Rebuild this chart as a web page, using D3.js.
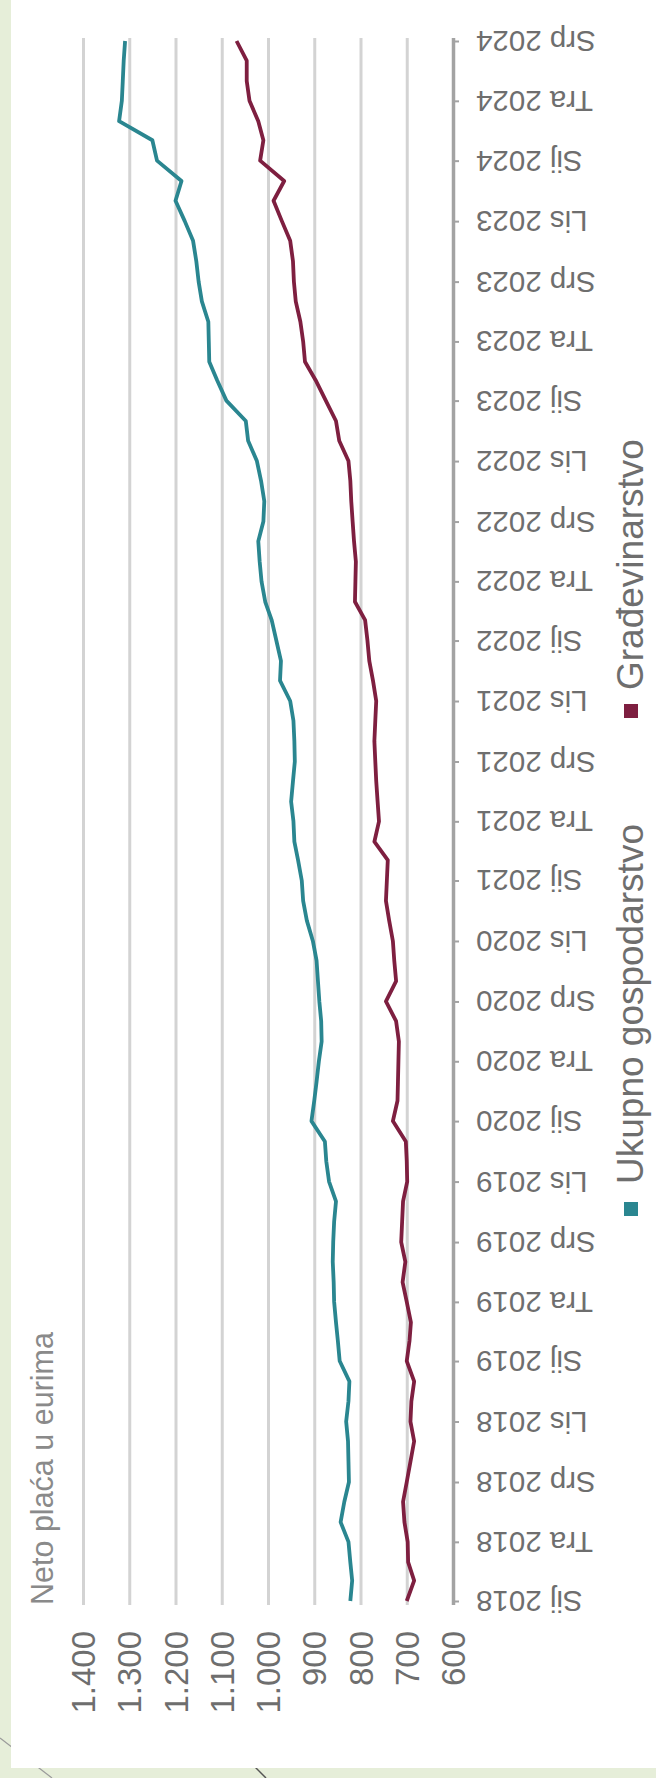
<!DOCTYPE html>
<html>
<head>
<meta charset="utf-8">
<script src="https://cdn.jsdelivr.net/npm/d3@7"></script>
<style>
  html, body { margin: 0; padding: 0; background: #e6eed9; }
  svg { display: block; }
  text { font-family: "Liberation Sans", Arial, sans-serif; }
</style>
</head>
<body>
<svg id="chart" width="656" height="1778"></svg>
<script>
// ---------- data ----------
const titleText = "Neto plaća u eurima";
const seriesNames = ["Ukupno gospodarstvo", "Građevinarstvo"];
const startMonth = new Date(2018, 0, 1);
const endMonth = new Date(2024, 6, 1);
const months = d3.timeMonth.range(startMonth, d3.timeMonth.offset(endMonth, 1));
const ukupno = [
  822, 818, 822, 826, 843, 835, 825, 826, 827, 831, 826, 824,
  845, 849, 853, 857, 858, 860, 859, 857, 853, 868, 874, 877,
  906, 900, 895, 890, 884, 885, 889, 892, 895, 903, 916, 924,
  927, 935, 943, 945, 950, 946, 942, 943, 945, 952, 974, 972,
  982, 992, 1006, 1014, 1018, 1021, 1010, 1008, 1015, 1024, 1043, 1048,
  1090, 1110, 1127, 1128, 1129, 1143, 1150, 1155, 1162, 1180, 1200, 1187,
  1240, 1250, 1322, 1316, 1314, 1312, 1309
];
const gradevinarstvo = [
  700, 684, 697, 698, 705, 708, 700, 692, 684, 692, 690, 684,
  700, 694, 691, 700, 709, 703, 712, 710, 708, 699, 700, 702,
  730, 720, 719, 718, 717, 723, 745, 723, 727, 730, 738, 745,
  743, 741, 770, 760, 763, 766, 768, 770, 768, 766, 773, 781,
  785, 790, 812, 811, 810, 814, 817, 820, 822, 826, 846, 853,
  875, 897, 920, 924, 930, 940, 944, 946, 952, 970, 988, 965,
  1017, 1010, 1021, 1040, 1046, 1046, 1068
];
const valueTicks = [600, 700, 800, 900, 1000, 1100, 1200, 1300, 1400];
const dateTickLabels = [
  "Sij 2018", "Tra 2018", "Srp 2018", "Lis 2018",
  "Sij 2019", "Tra 2019", "Srp 2019", "Lis 2019",
  "Sij 2020", "Tra 2020", "Srp 2020", "Lis 2020",
  "Sij 2021", "Tra 2021", "Srp 2021", "Lis 2021",
  "Sij 2022", "Tra 2022", "Srp 2022", "Lis 2022",
  "Sij 2023", "Tra 2023", "Srp 2023", "Lis 2023",
  "Sij 2024", "Tra 2024", "Srp 2024"
];
const colors = ["#2a8690", "#7e1f40"];

// ---------- drawing ----------
const svg = d3.select("#chart");
const W = 656, H = 1778;
const plotTop = 38, plotBottom = 1605;

// decorative slide lines (behind white card)
svg.append("line").attr("x1", 0).attr("y1", 1738).attr("x2", 52).attr("y2", 1778)
  .attr("stroke", "#9a9a9a").attr("stroke-width", 1.2);
svg.append("line").attr("x1", 246).attr("y1", 1758).attr("x2", 266).attr("y2", 1778)
  .attr("stroke", "#555").attr("stroke-width", 1.5);

// white card
svg.append("rect").attr("x", 11).attr("y", 0).attr("width", W - 11).attr("height", 1768)
  .attr("fill", "#ffffff");

const x = d3.scaleLinear().domain([600, 1400]).range([453, 83]);
const y = d3.scaleTime().domain([startMonth, endMonth]).range([1601, 41]);

const fmt = d3.formatLocale({ decimal: ",", thousands: ".", grouping: [3], currency: ["", " €"] }).format(",");

// value axis (gridlines + rotated labels)
const xAxis = d3.axisBottom(x).tickValues(valueTicks).tickSize(-(plotBottom - plotTop)).tickFormat(fmt);
const gx = svg.append("g").attr("transform", `translate(0,${plotBottom})`).call(xAxis);
gx.select(".domain").remove();
gx.selectAll(".tick line")
  .attr("stroke", d => d === 600 ? "#a3a3a3" : "#d3d3d3")
  .attr("stroke-width", d => d === 600 ? 3.5 : 3);
gx.selectAll(".tick text")
  .attr("x", 0).attr("y", 0).attr("dy", null)
  .attr("dominant-baseline", "central")
  .attr("text-anchor", "end")
  .attr("transform", "translate(0,26) rotate(-90)")
  .attr("font-size", 33)
  .attr("fill", "#6e6e6e");

// date axis
const quarterDates = dateTickLabels.map((_, i) => d3.timeMonth.offset(startMonth, i * 3));
const yAxis = d3.axisRight(y).tickValues(quarterDates).tickSize(6).tickSizeOuter(0)
  .tickFormat((d, i) => dateTickLabels[i]);
const gy = svg.append("g").attr("transform", "translate(453,0)").call(yAxis);
gy.select(".domain").remove();
gy.selectAll(".tick line").attr("stroke", "#a3a3a3").attr("stroke-width", 2);
gy.selectAll(".tick text")
  .attr("x", 0).attr("dy", null)
  .attr("dominant-baseline", "central")
  .attr("text-anchor", "end")
  .attr("transform", "translate(23,0) rotate(180)")
  .attr("font-size", 29.5)
  .attr("fill", "#6e6e6e");

// lines
const seriesData = [ukupno, gradevinarstvo];
const line = d3.line().x(d => x(d.v)).y(d => y(d.date));
seriesData.forEach((vals, s) => {
  const pts = months.map((m, i) => ({ date: m, v: vals[i] }));
  svg.append("path").datum(pts)
    .attr("d", line)
    .attr("fill", "none")
    .attr("stroke", colors[s])
    .attr("stroke-width", 3.8)
    .attr("stroke-linejoin", "round");
});

// title
svg.append("text")
  .attr("transform", "translate(53,1605) rotate(-90)")
  .attr("text-anchor", "start")
  .attr("font-size", 30.5)
  .attr("fill", "#8a8a8a")
  .text(titleText);

// legend
const legendItems = [
  { name: seriesNames[0], color: colors[0], sq: 1209, txt: 1184 },
  { name: seriesNames[1], color: colors[1], sq: 711, txt: 690 }
];
legendItems.forEach(it => {
  svg.append("rect").attr("x", 624).attr("y", it.sq - 7).attr("width", 14).attr("height", 14)
    .attr("fill", it.color);
  svg.append("text")
    .attr("transform", `translate(643,${it.txt}) rotate(-90)`)
    .attr("text-anchor", "start")
    .attr("font-size", 37)
    .attr("fill", "#6e6e6e")
    .text(it.name);
});
</script>
</body>
</html>
